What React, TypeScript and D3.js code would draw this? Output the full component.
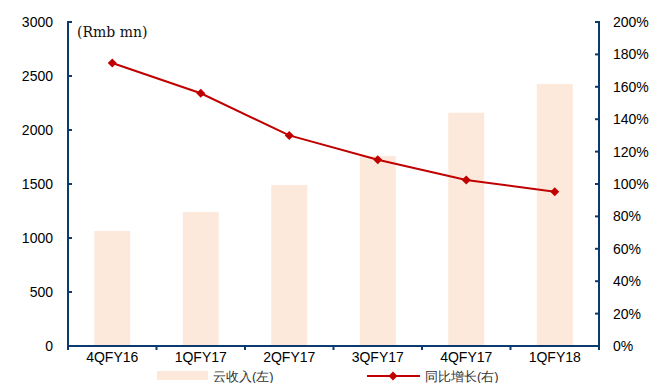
import React from "react";
import * as d3 from "d3";

const categories = ["4QFY16", "1QFY17", "2QFY17", "3QFY17", "4QFY17", "1QFY18"];
const revenue = [1065, 1240, 1490, 1760, 2160, 2425];
const growth = [1.747, 1.56, 1.30, 1.15, 1.025, 0.952];
const leftTicks = [0, 500, 1000, 1500, 2000, 2500, 3000];
const rightTicks = [0, 0.2, 0.4, 0.6, 0.8, 1.0, 1.2, 1.4, 1.6, 1.8, 2.0];

const W = 667;
const H = 383;
const left = 68;
const right = 599;
const top = 22;
const bottom = 346;
const axisColor = "#0b3b6e";
const barColor = "#fde9dc";
const lineColor = "#c00000";
const font = "Liberation Sans, Arial, sans-serif";

export default function App() {
  const x = d3.scaleBand<string>().domain(categories).range([left, right]).paddingInner(0).paddingOuter(0);
  const yL = d3.scaleLinear().domain([0, 3000]).range([bottom, top]);
  const yR = d3.scaleLinear().domain([0, 2]).range([bottom, top]);
  const bw = 36;
  const cx = (c: string) => (x(c) as number) + x.bandwidth() / 2;
  const line = d3
    .line<number>()
    .x((_, i) => cx(categories[i]))
    .y((d) => yR(d));
  const diamond = (px: number, py: number, r: number) =>
    `M${px},${py - r}L${px + r},${py}L${px},${py + r}L${px - r},${py}Z`;
  const boundaries = d3.range(categories.length + 1).map((i) => left + i * x.bandwidth());

  return (
    <svg width={W} height={H} style={{ position: "absolute", left: 0, top: 0 }}>
      {categories.map((c, i) => (
        <rect key={c} x={cx(c) - bw / 2} y={yL(revenue[i])} width={bw} height={bottom - yL(revenue[i])} fill={barColor} />
      ))}
      <path d={line(growth) || ""} fill="none" stroke={lineColor} strokeWidth={2} />
      {growth.map((g, i) => (
        <path key={i} d={diamond(cx(categories[i]), yR(g), 4.5)} fill={lineColor} />
      ))}

      {/* left axis */}
      <line x1={left} x2={left} y1={top - 1} y2={bottom + 1} stroke={axisColor} strokeWidth={2} />
      {leftTicks.map((t) => (
        <g key={t}>
          <line x1={left} x2={left + 4} y1={yL(t)} y2={yL(t)} stroke={axisColor} strokeWidth={2} />
          <text x={53} y={yL(t) + 5} textAnchor="end" fontFamily={font} fontSize={14} fill="#000">
            {t}
          </text>
        </g>
      ))}
      {/* right axis */}
      <line x1={right} x2={right} y1={top - 1} y2={bottom + 1} stroke={axisColor} strokeWidth={2} />
      {rightTicks.map((t) => (
        <g key={t}>
          <line x1={right - 4} x2={right} y1={yR(t)} y2={yR(t)} stroke={axisColor} strokeWidth={2} />
          <text x={613} y={yR(t) + 5} textAnchor="start" fontFamily={font} fontSize={14} fill="#000">
            {d3.format(".0%")(t)}
          </text>
        </g>
      ))}
      {/* x axis */}
      <line x1={left - 1} x2={right + 1} y1={bottom} y2={bottom} stroke={axisColor} strokeWidth={2} />
      {boundaries.map((b, i) => (
        <line key={i} x1={b} x2={b} y1={bottom} y2={bottom + 4} stroke={axisColor} strokeWidth={2} />
      ))}
      {categories.map((c) => (
        <text key={c} x={cx(c)} y={bottom + 16} textAnchor="middle" fontFamily={font} fontSize={14} fill="#000">
          {c}
        </text>
      ))}

      <text x={77} y={37} fontFamily="DejaVu Serif, Liberation Serif, serif" fontSize={14} fill="#111">
        (Rmb mn)
      </text>

      {/* legend */}
      <rect x={157} y={371} width={51} height={9} fill={barColor} />
      <text x={213} y={381} fontFamily={font} fontSize={13} fill="#333">
        云收入(左)
      </text>
      <line x1={367} x2={420} y1={376} y2={376} stroke={lineColor} strokeWidth={2} />
      <path d={diamond(393, 376, 4.5)} fill={lineColor} />
      <text x={425} y={381} fontFamily={font} fontSize={13} fill="#333">
        同比增长(右)
      </text>
    </svg>
  );
}
